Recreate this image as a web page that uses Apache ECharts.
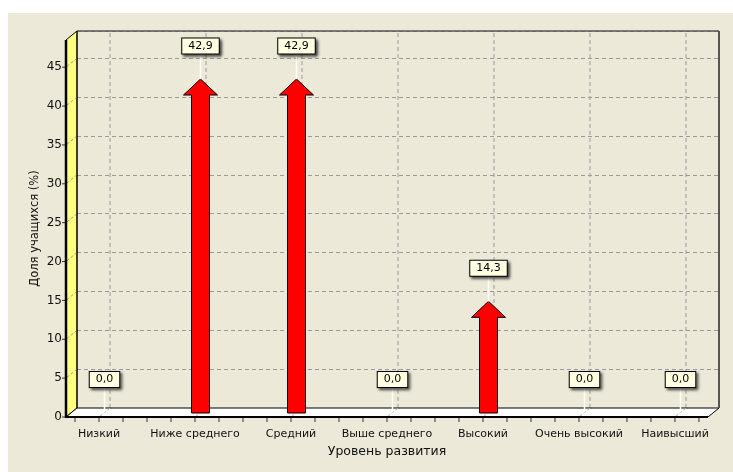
<!DOCTYPE html>
<html><head><meta charset="utf-8">
<script src="https://cdn.jsdelivr.net/npm/echarts@6/dist/echarts.min.js"></script>
<style>html,body{margin:0;padding:0;background:#fff}#c{width:733px;height:472px}</style>
</head><body><div id="c"></div>
<script>
// ---- data ----
const categories = ['Низкий', 'Ниже среднего', 'Средний', 'Выше среднего', 'Высокий', 'Очень высокий', 'Наивысший'];
const values = [0.0, 42.9, 42.9, 0.0, 14.3, 0.0, 0.0];
const yMin = 0, yMax = 48.5, yStep = 5;
const xTitle = 'Уровень развития';
const yTitle = 'Доля учащихся (%)';

// ---- layout / style ----
const FONT = 'DejaVu Sans';
const DX = 11, DY = 9;            // depth vector (back -> front)
const XPAD = 0.344;               // wall margin in category units
const back = {left: 77, right: 14, top: 31, bottom: 64};
const grid = (dx, dy) => ({left: back.left + 33 - dx, right: back.right + 33 + dx, top: back.top + dy, bottom: back.bottom - dy});
const gridStyle = {color: '#9a9a9a', width: 1, type: [4, 3]};

const chart = echarts.init(document.getElementById('c'), null, {renderer: 'canvas'});

const frameSeries = {
  type: 'custom', xAxisIndex: 0, yAxisIndex: 0, clip: false, silent: true, z: 1,
  data: [[0, 0]],
  renderItem(params, api) {
    const bl = api.coord([-XPAD, yMin]);
    const br = api.coord([categories.length - 1 + XPAD, yMin]);
    const tl = api.coord([-XPAD, yMax]);
    const tr = [br[0], tl[1]];
    const f = p => [p[0] - DX, p[1] + DY];
    const ch = [];
    ch.push({type: 'polygon', shape: {points: [f(tl), tl, bl, f(bl)]}, style: {fill: '#FFFF80', stroke: '#000', lineWidth: 1}});
    for (let v = yStep; v < yMax; v += yStep) {
      const p = api.coord([-XPAD, v]);
      ch.push({type: 'line', shape: {x1: p[0], y1: p[1], x2: p[0] - DX, y2: p[1] + DY}, style: {stroke: '#9a9a9a', lineWidth: 1, lineDash: [3, 2]}});
    }
    ch.push({type: 'polygon', shape: {points: [bl, br, f(br), f(bl)]}, style: {fill: '#fff', stroke: '#000', lineWidth: 1}});
    categories.forEach((c, i) => {
      const p = api.coord([i, yMin]);
      ch.push({type: 'line', shape: {x1: p[0], y1: p[1], x2: p[0] - DX, y2: p[1] + DY}, style: {stroke: '#aaa', lineWidth: 1, lineDash: [3, 2]}});
    });
    for (let k = -1; k <= (categories.length - 1) * 4 + 1; k++) {
      const p = f(api.coord([k / 4, yMin]));
      ch.push({type: 'line', shape: {x1: p[0], y1: p[1] + 1, x2: p[0], y2: p[1] + 5}, style: {stroke: '#333', lineWidth: 1}});
    }
    for (let v = yMin; v < yMax; v += yStep) {
      const p = f(api.coord([-XPAD, v]));
      ch.push({type: 'line', shape: {x1: p[0] - 4, y1: p[1], x2: p[0], y2: p[1]}, style: {stroke: '#333', lineWidth: 1}});
    }
    ch.push({type: 'line', shape: {x1: f(bl)[0], y1: f(bl)[1], x2: f(br)[0], y2: f(br)[1]}, style: {stroke: '#000', lineWidth: 2}});
    ch.push({type: 'line', shape: {x1: f(bl)[0], y1: f(bl)[1] + 1, x2: f(tl)[0], y2: f(tl)[1]}, style: {stroke: '#000', lineWidth: 2.5}});
    ch.push({type: 'line', shape: {x1: tl[0], y1: tl[1], x2: tr[0], y2: tr[1]}, style: {stroke: '#555', lineWidth: 1.5}});
    ch.push({type: 'line', shape: {x1: tr[0], y1: tr[1], x2: br[0], y2: br[1]}, style: {stroke: '#555', lineWidth: 2}});
    ch.push({type: 'line', shape: {x1: tl[0], y1: tl[1], x2: bl[0], y2: bl[1]}, style: {stroke: '#000', lineWidth: 1}});
    return {type: 'group', children: ch};
  }
};

const vGridSeries = {
  type: 'custom', xAxisIndex: 0, yAxisIndex: 0, silent: true, z: 0,
  data: categories.map((c, i) => [i]),
  renderItem(params, api) {
    const i = api.value(0);
    const a = api.coord([i, yMin]), b = api.coord([i, yMax]);
    return {type: 'line', shape: {x1: a[0], y1: a[1], x2: b[0], y2: b[1]}, style: {stroke: '#9a9a9a', lineWidth: 1, lineDash: [4, 3]}};
  }
};

const arrowSeries = {
  type: 'custom', xAxisIndex: 2, yAxisIndex: 2, clip: false, z: 3,
  data: values.map((v, i) => [i, v]),
  renderItem(params, api) {
    const v = api.value(1);
    if (!(v > 0)) return null;
    const tip = api.coord([api.value(0), v]);
    const base = api.coord([api.value(0), yMin]);
    const x = tip[0], yt = tip[1], yb = base[1] + 0.5;
    const hw = 17, sw = 9, hh = 16;
    return {type: 'polygon', shape: {points: [
      [x, yt], [x + hw, yt + hh], [x + sw, yt + hh], [x + sw, yb], [x - sw, yb], [x - sw, yt + hh], [x - hw, yt + hh]
    ]}, style: {fill: '#FF0000', stroke: '#000', lineWidth: 1}};
  }
};

const labelSeries = {
  type: 'custom', xAxisIndex: 2, yAxisIndex: 2, clip: false, z: 5,
  data: values.map((v, i) => [i, v]),
  renderItem(params, api) {
    const p = api.coord([api.value(0), api.value(1)]);
    const txt = api.value(1).toFixed(1).replace('.', ',');
    const cy = p[1] - 33;
    return {type: 'group', children: [
      {type: 'line', shape: {x1: p[0], y1: cy + 8, x2: p[0], y2: p[1]}, style: {stroke: '#fff', lineWidth: 1.5}},
      {type: 'text', x: p[0], y: cy, style: {
        text: txt, fill: '#000', font: '11px "' + FONT + '"', align: 'center', verticalAlign: 'middle',
        lineHeight: 12,
        backgroundColor: '#FFFFE1', borderColor: '#000', borderWidth: 1, padding: [2, 6, 1, 6],
        shadowColor: 'rgba(0,0,0,0.65)', shadowBlur: 3, shadowOffsetX: 2, shadowOffsetY: 2
      }}
    ]};
  }
};

const g1 = grid(DX, DY), g2 = grid(DX / 2, DY / 2);

chart.setOption({
  animation: false,
  backgroundColor: '#fff',
  textStyle: {fontFamily: FONT},
  graphic: [{type: 'rect', shape: {x: 8, y: 13, width: 725, height: 459}, style: {fill: '#ECE9D8'}, z: -10, silent: true}],
  grid: [
    {left: back.left, right: back.right, top: back.top, bottom: back.bottom},
    g1, g2
  ],
  xAxis: [
    {gridIndex: 0, type: 'value', min: -XPAD, max: categories.length - 1 + XPAD, show: false, splitLine: {show: false}},
    {gridIndex: 1, type: 'category', data: categories, boundaryGap: false,
     axisLine: {show: false}, axisTick: {show: false}, splitLine: {show: false},
     axisLabel: {color: '#111', fontSize: 11, fontFamily: FONT, margin: 12, interval: 0},
     name: xTitle, nameLocation: 'middle', nameGap: 28, nameMoveOverlap: false,
     nameTextStyle: {color: '#111', fontSize: 12.5, fontFamily: FONT}},
    {gridIndex: 2, type: 'category', data: categories, boundaryGap: false, show: false}
  ],
  yAxis: [
    {gridIndex: 0, type: 'value', min: yMin, max: yMax, interval: yStep,
     axisLine: {show: false}, axisTick: {show: false}, axisLabel: {show: false},
     splitLine: {show: true, lineStyle: gridStyle}},
    {gridIndex: 1, type: 'value', min: yMin, max: yMax, interval: yStep,
     axisLine: {show: false}, axisTick: {show: false}, splitLine: {show: false},
     axisLabel: {color: '#111', fontSize: 12, fontFamily: FONT, margin: 37, showMaxLabel: false},
     name: yTitle, nameLocation: 'middle', nameGap: 58, nameMoveOverlap: false,
     nameTextStyle: {color: '#111', fontSize: 11.5, fontFamily: FONT}},
    {gridIndex: 2, type: 'value', min: yMin, max: yMax, interval: yStep, show: false}
  ],
  series: [vGridSeries, frameSeries, arrowSeries, labelSeries]
});
</script>
</body></html>
